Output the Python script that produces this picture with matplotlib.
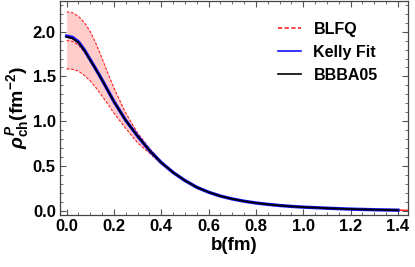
import matplotlib
matplotlib.use("Agg")
import matplotlib.pyplot as plt
from matplotlib.ticker import MultipleLocator

plt.rcParams['font.family'] = ['Liberation Sans', 'DejaVu Sans']
plt.rcParams['font.weight'] = 'bold'
plt.rcParams['mathtext.fontset'] = 'custom'
plt.rcParams['mathtext.rm'] = 'Liberation Sans:bold'
plt.rcParams['mathtext.it'] = 'Liberation Sans:bold:italic'
plt.rcParams['mathtext.bf'] = 'Liberation Sans:bold'

# ---- data ----
b = [0, 0.025, 0.05, 0.075, 0.1, 0.125, 0.15, 0.175, 0.2, 0.25, 0.3, 0.35, 0.4, 0.45,
     0.5, 0.55, 0.6, 0.65, 0.7, 0.75, 0.8, 0.85, 0.9, 0.95, 1.0, 1.1, 1.2, 1.3, 1.45]
b_fit = [0, 0.025, 0.05, 0.075, 0.1, 0.125, 0.15, 0.175, 0.2, 0.25, 0.3, 0.35, 0.4, 0.45,
         0.5, 0.55, 0.6, 0.65, 0.7, 0.75, 0.8, 0.85, 0.9, 0.95, 1.0, 1.1, 1.2, 1.3, 1.4]
kelly = [1.95, 1.935, 1.885, 1.795, 1.685, 1.575, 1.46, 1.34, 1.22, 1.01, 0.835, 0.675, 0.54, 0.43,
         0.34, 0.265, 0.21, 0.167, 0.135, 0.11, 0.09, 0.075, 0.062, 0.052, 0.044, 0.032, 0.022, 0.015, 0.01]
bbba05 = [1.94, 1.925, 1.878, 1.79, 1.68, 1.572, 1.458, 1.339, 1.219, 1.01, 0.835, 0.675, 0.54, 0.43,
          0.34, 0.265, 0.21, 0.167, 0.135, 0.11, 0.09, 0.075, 0.062, 0.052, 0.044, 0.032, 0.022, 0.015, 0.01]
blfq = [1.90, 1.89, 1.85, 1.77, 1.67, 1.56, 1.45, 1.335, 1.215, 1.0, 0.83, 0.675, 0.545, 0.435,
        0.345, 0.27, 0.213, 0.17, 0.138, 0.112, 0.092, 0.076, 0.063, 0.053, 0.045, 0.033, 0.023, 0.015, 0.008]
blfq_upper = [2.22, 2.21, 2.17, 2.10, 2.00, 1.86, 1.70, 1.53, 1.37, 1.09, 0.87, 0.70, 0.55, 0.435,
              0.345, 0.27, 0.215, 0.172, 0.14, 0.114, 0.093, 0.077, 0.064, 0.054, 0.045, 0.033, 0.023, 0.016, 0.009]
blfq_lower = [1.585, 1.58, 1.56, 1.51, 1.45, 1.37, 1.28, 1.19, 1.09, 0.92, 0.76, 0.645, 0.525, 0.425,
              0.335, 0.262, 0.207, 0.165, 0.133, 0.108, 0.088, 0.073, 0.06, 0.05, 0.043, 0.031, 0.021, 0.014, 0.007]

fig = plt.figure(figsize=(4.15, 2.67), dpi=100)
ax = fig.add_axes([0.1446, 0.196, 0.8378, 0.80])

ax.fill_between(b, blfq_lower, blfq_upper, color='#ffcccc', lw=0, zorder=1)
dash = dict(color='#ff2020', lw=0.8, dashes=(2.5, 1.5), zorder=2)
ax.plot(b, blfq_upper, **dash)
ax.plot(b, blfq_lower, **dash)
ax.plot(b, blfq, label='BLFQ', **dash)
ax.plot(b_fit, kelly, color='#1010ff', lw=2.4, label='Kelly Fit', zorder=3)
ax.plot(b_fit, bbba05, color='black', lw=1.3, label='BBBA05', zorder=4)

ax.set_xlim(-0.028, 1.441)
ax.set_ylim(-0.04, 2.34)
ax.xaxis.set_major_locator(MultipleLocator(0.2))
ax.xaxis.set_minor_locator(MultipleLocator(0.05))
ax.yaxis.set_major_locator(MultipleLocator(0.5))
ax.yaxis.set_minor_locator(MultipleLocator(0.1))
ax.tick_params(which='both', direction='in', top=True, right=True, color='#555555',
               labelsize=12, pad=3)
ax.tick_params(which='major', length=4, width=0.8)
ax.tick_params(which='minor', length=2, width=0.6)
for lab in ax.get_xticklabels() + ax.get_yticklabels():
    lab.set_fontweight('bold')
for s in ax.spines.values():
    s.set_color('#444444')
    s.set_linewidth(0.9)

ax.set_xlabel('b(fm)', fontsize=13.5, fontweight='bold', labelpad=2)
ax.set_ylabel(r'$\rho^{P}_{\mathrm{ch}}$(fm$^{-2}$)', fontsize=14, fontweight='bold', labelpad=1)

leg = ax.legend(loc='upper right', bbox_to_anchor=(0.955, 0.97), frameon=False, fontsize=11.5,
                handlelength=1.45, handletextpad=0.75, labelspacing=0.5)
for h in leg.get_lines():
    h.set_linewidth(1.2)
for t in leg.get_texts():
    t.set_fontweight('bold')

fig.savefig('out.png', dpi=100)
